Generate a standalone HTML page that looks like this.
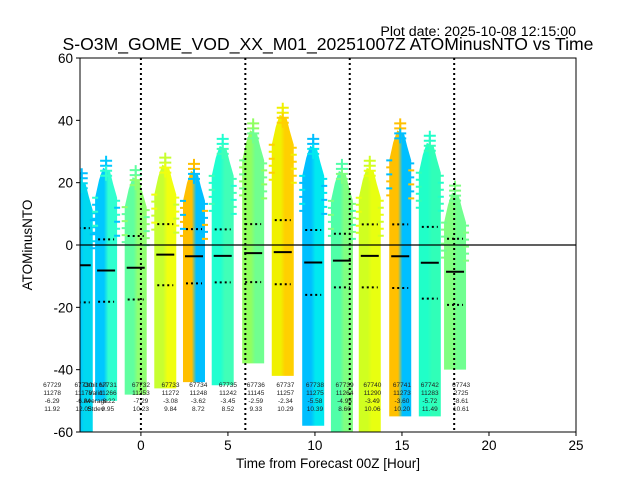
<!DOCTYPE html>
<html><head><meta charset="utf-8"><style>
body{margin:0;background:#fff;width:640px;height:480px;overflow:hidden;font-family:"Liberation Sans",sans-serif}
</style></head><body>
<svg id="chart" width="640" height="480" xmlns="http://www.w3.org/2000/svg" font-family="Liberation Sans, sans-serif">
<defs id="defs"></defs>
<g id="plot"></g>
</svg>
<script>
const hours=[-3.4,-2.0,-0.3,1.4,3.05,4.7,6.45,8.15,9.9,11.55,13.15,14.9,16.6,18.05];
const maxVals=[24,28,25,29,27,35,40,45,35,27,28,40,36,20];
const minVals=[-60,-50,-48,-46,-44,-45,-38,-42,-58,-60,-60,-55,-55,-40];
const means=[-6.5,-8.2,-7.3,-3.1,-3.6,-3.5,-2.6,-2.3,-5.6,-5.0,-3.5,-3.6,-5.7,-8.6];
const stds=[11.9,10.0,10.2,9.8,8.7,8.5,9.3,10.3,10.4,8.6,10.1,10.2,11.5,10.6];
const colA=["#00BFFF","#00C8FF","#60FFA0","#C8FF30","#FFBF00","#20FFD0","#90FF60","#F0F000","#00BFFF","#50FFA8","#D0FF20","#FFC000","#20FFC8","#80FF80"];
const colB=["#00D8F0","#30FFD0","#90FF70","#F0FF10","#00BFFF","#40FFB8","#70FF90","#FFD000","#00E8F0","#80FF80","#E8FF10","#00BFFF","#30FFB8","#70FF90"];
const orbits=["67729","67730","67731","67732","67733","67734","67735","67736","67737","67738","67739","67740","67741","67742","67743"];
const labelHours=[-5.1,-3.3,-1.9,0.0,1.7,3.3,5.0,6.6,8.3,10.0,11.7,13.3,15.0,16.6,18.4];
const counts=["11278","11178","11266","11253","11272","11248","11242","11145","11257","11275","11264","11290","11273","11283","2725"];
const avgs=["-6.29","-6.84","-8.22","-7.29","-3.08","-3.62","-3.45","-2.59","-2.34","-5.58","-4.95","-3.49","-3.60","-5.72","-8.61"];
const stdLabels=["11.92","12.05","9.95","10.23","9.84","8.72","8.52","9.33","10.29","10.39","8.60","10.06","10.20","11.49","10.61"];
const xTicks=[0,5,10,15,20,25];
const yTicks=[-60,-40,-20,0,20,40,60];
const vLines=[0,6,12,18];

const L=80,R=576,T=58,B=432,XMIN=-3.5,XMAX=25,YMIN=-60,YMAX=60;
const sx=v=>L+(v-XMIN)/(XMAX-XMIN)*(R-L);
const sy=v=>B-(v-YMIN)/(YMAX-YMIN)*(B-T);
const NS="http://www.w3.org/2000/svg";
const svg=document.getElementById('chart'),defs=document.getElementById('defs'),plot=document.getElementById('plot');
function mk(tag,attrs,parent){const e=document.createElementNS(NS,tag);for(const k in attrs)e.setAttribute(k,attrs[k]);(parent||svg).appendChild(e);return e;}
const cp=mk('clipPath',{id:'clip'},defs);mk('rect',{x:L,y:T,width:R-L,height:B-T},cp);
const g=mk('g',{'clip-path':'url(#clip)'},plot);


hours.forEach((h,i)=>{
  const gr=mk('linearGradient',{id:'g'+i,x1:0,x2:1,y1:0,y2:0},defs);
  mk('stop',{offset:'0%','stop-color':colA[i]},gr);mk('stop',{offset:'40%','stop-color':colA[i]},gr);
  mk('stop',{offset:'60%','stop-color':colB[i]},gr);mk('stop',{offset:'100%','stop-color':colB[i]},gr);
  const cx=sx(h),yt=sy(maxVals[i]),yb=sy(minVals[i]);
  const bodyTop=yt+40;
  const body=mk('path',{d:`M${cx-11},${yb} L${cx-11},${bodyTop} L${cx-7},${yt+22} L${cx-3},${yt+10} L${cx+4},${yt+14} L${cx+7},${yt+26} L${cx+11},${bodyTop} L${cx+11},${yb} Z`,fill:'url(#g'+i+')'},g);
  
  
  for(let k=0;k<4;k++){const py=yt+3+k*5;
    const p=mk('path',{d:`M${cx-6},${py} h12 M${cx},${py-5} v10`,stroke:k<2?colA[i]:colB[i],'stroke-width':2},g);
    
    }
  for(let k=0;k<6;k++){const py=bodyTop+k*7;
    const p=mk('path',{d:`M${cx-14},${py} h6 M${cx+8},${py+3} h6`,stroke:k%2?colA[i]:colB[i],'stroke-width':2},g);
    
    }
  const m=mk('line',{x1:cx-9,x2:cx+9,y1:sy(means[i]),y2:sy(means[i]),stroke:'#000','stroke-width':2},g);
  
  
  [means[i]+stds[i],means[i]-stds[i]].forEach(v=>{
    const s=mk('line',{x1:cx-8,x2:cx+8,y1:sy(v),y2:sy(v),stroke:'#000','stroke-width':2,'stroke-dasharray':'2 3'},g);
    
    });
});
vLines.forEach(h=>{const l=mk('line',{x1:sx(h),x2:sx(h),y1:T,y2:B,stroke:'#000','stroke-width':2,'stroke-dasharray':'2 3'},g);
  
  });
const z=mk('line',{x1:L,x2:R,y1:sy(0),y2:sy(0),stroke:'#000','stroke-width':1.2},g);


orbits.forEach((o,i)=>{const cx=sx(labelHours[i]);
  [o,counts[i],avgs[i],stdLabels[i]].forEach((t,j)=>{
    const tx=mk('text',{x:cx,y:387+j*8,'font-size':6.5,'text-anchor':'middle',fill:'#222'});tx.textContent=t;
    
    });});
["Orbit NT","Valid","Average","Stdev"].forEach((t,j)=>{const tx=mk('text',{x:sx(-2.6),y:387+j*8,'font-size':6.5,'text-anchor':'middle',fill:'#222'});tx.textContent=t;
  
  });
const fr=mk('rect',{x:L,y:T,width:R-L,height:B-T,fill:'none',stroke:'#000','stroke-width':1});


xTicks.forEach(v=>{const x=sx(v);mk('line',{x1:x,x2:x,y1:B,y2:B+4,stroke:'#000'});
  const t=mk('text',{x:x,y:B+18,'font-size':13.5,'text-anchor':'middle'});t.textContent=v;
  
  });
yTicks.forEach(v=>{const y=sy(v);mk('line',{x1:L-4,x2:L,y1:y,y2:y,stroke:'#000'});
  const t=mk('text',{x:L-7,y:y+5,'font-size':13.5,'text-anchor':'end'});t.textContent=v;
  
  });
</script>
<svg style="position:absolute;left:0;top:0" width="640" height="480" font-family="Liberation Sans, sans-serif">
<text x="576" y="36" font-size="14.2" text-anchor="end">Plot date: 2025-10-08 12:15:00</text>
<text x="328" y="50" font-size="17.6" text-anchor="middle">S-O3M_GOME_VOD_XX_M01_20251007Z ATOMinusNTO vs Time</text>
<text x="328" y="468" font-size="13.5" text-anchor="middle">Time from Forecast 00Z [Hour]</text>
<text x="32" y="245" font-size="13.5" text-anchor="middle" transform="rotate(-90 32 245)">ATOMinusNTO</text>
</svg>
</body></html>
